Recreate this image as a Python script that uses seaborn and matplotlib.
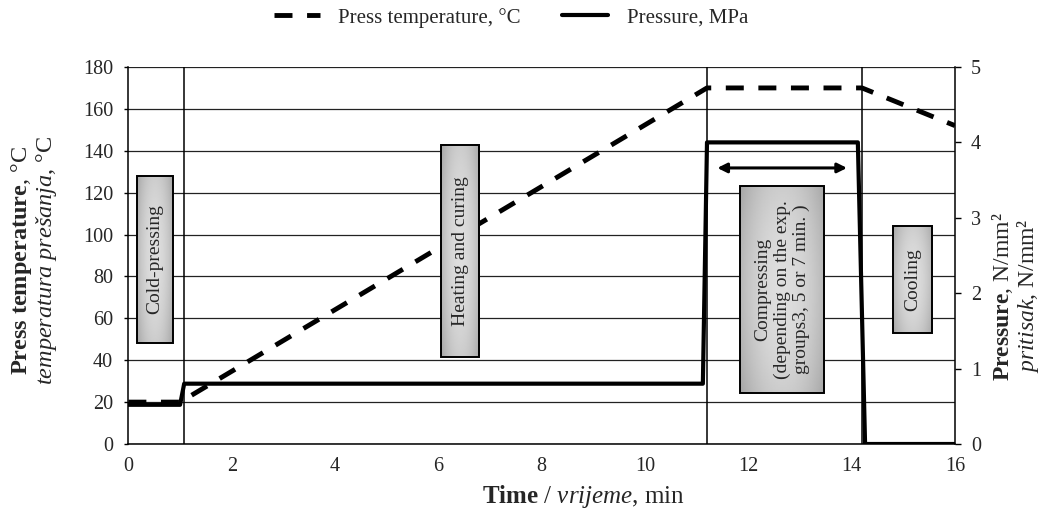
import numpy as np
import matplotlib
matplotlib.use("Agg")
import matplotlib.pyplot as plt
from matplotlib.lines import Line2D
from matplotlib.patches import Rectangle
import seaborn as sns

# ---- data -------------------------------------------------------------
temp_time = [0.0, 1.0, 11.2, 14.2, 16.0]          # min
temp_c = [20, 20, 170, 170, 152]                   # press temperature, °C
pres_time = [0.0, 1.0, 1.08, 11.12, 11.2, 14.12, 14.26, 16.0]
pres_mpa = [0.52, 0.52, 0.8, 0.8, 4.0, 4.0, 0.0, 0.0]  # pressure, MPa
phase_bounds = [1.07, 11.2, 14.2]                  # phase change times, min
time_ticks = list(range(0, 17, 2))
temp_ticks = list(range(0, 181, 20))
pres_ticks = [0, 1, 2, 3, 4, 5]
phase_labels = [
    "Cold-pressing",
    "Heating and curing",
    "Compressing\n(depending on the exp.\ngroups3, 5 or 7 min. )",
    "Cooling",
]
legend_labels = ["Press temperature, °C", "Pressure, MPa"]

# ---- style ------------------------------------------------------------
sns.set_theme(style="ticks")
plt.rcParams["font.family"] = ["Liberation Serif", "DejaVu Serif"]
plt.rcParams["mathtext.fontset"] = "custom"
plt.rcParams["mathtext.rm"] = "Liberation Serif"
plt.rcParams["mathtext.it"] = "Liberation Serif:italic"
plt.rcParams["mathtext.bf"] = "Liberation Serif:bold"

TICK_FS = 14.5
fig = plt.figure(figsize=(10.43, 5.09), dpi=100)
ax = fig.add_axes([0.1231, 0.1277, 0.7925, 0.7407])
ax2 = ax.twinx()

# temperature (dashed) on the left axis
sns.lineplot(x=temp_time, y=temp_c, ax=ax, color="black", lw=3.5,
             estimator=None, sort=False, zorder=3)
ax.lines[-1].set_dashes((3.7, 3.0))
ax.lines[-1].set_dash_capstyle("butt")

# pressure (solid) on the right axis
sns.lineplot(x=pres_time, y=pres_mpa, ax=ax2, color="black", lw=3.0,
             estimator=None, sort=False, zorder=3)

# phase separators
for xb in phase_bounds:
    ax.axvline(xb, color="black", lw=1.1, zorder=2.5)

# horizontal grid
ax.yaxis.grid(True, color="#222222", lw=0.9)
ax.set_axisbelow(True)

# phase boxes (x0, x1, y0, y1 in minutes / °C)
box_extents = [
    (0.17, 0.86, 48.2, 128.0),
    (6.05, 6.79, 41.5, 142.8),
    (11.84, 13.47, 24.4, 123.2),
    (14.80, 15.56, 53.0, 104.1),
]
u = np.linspace(-1, 1, 60)
v = np.linspace(-1, 1, 120)
U, V = np.meshgrid(u, v)
shade = 0.87 - 0.20 * (0.75 * U ** 2 + 0.35 * V ** 2)
for (x0, x1, y0, y1), lab in zip(box_extents, phase_labels):
    ax.imshow(shade, extent=(x0, x1, y0, y1), aspect="auto", cmap="gray",
              vmin=0, vmax=1, interpolation="bilinear", zorder=4)
    ax.add_patch(Rectangle((x0, y0), x1 - x0, y1 - y0, fill=False,
                           ec="black", lw=1.4, zorder=5))
    ax.text((x0 + x1) / 2, (y0 + y1) / 2, lab, rotation=90, ha="center",
            va="center", ma="center", fontsize=14, linespacing=1.15, zorder=6)

# duration arrow for compressing
ax.annotate("", xy=(13.91, 131.8), xytext=(11.40, 131.8),
            arrowprops=dict(arrowstyle="<|-|>", color="black", lw=2.2,
                            mutation_scale=14, shrinkA=0, shrinkB=0),
            zorder=6)

# axes limits / ticks
ax.set_xlim(0, 16)
ax.set_ylim(0, 180)
ax2.set_ylim(0, 5)
ax.set_xticks(time_ticks)
ax.set_yticks(temp_ticks)
ax2.set_yticks(pres_ticks)
ax.tick_params(axis="x", length=0, pad=9, labelsize=TICK_FS)
ax.tick_params(axis="y", length=3, width=1, pad=8, labelsize=TICK_FS,
               color="black")
ax2.tick_params(axis="y", length=4, width=1, pad=7.5, labelsize=TICK_FS,
                color="black")

for sp in ["left", "bottom"]:
    ax.spines[sp].set_color("black")
    ax.spines[sp].set_linewidth(1.1)
ax.spines["top"].set_visible(False)
ax.spines["right"].set_visible(False)
ax2.spines["right"].set_color("black")
ax2.spines["right"].set_linewidth(1.1)
for sp in ["left", "bottom", "top"]:
    ax2.spines[sp].set_visible(False)
ax.set_xlabel("")
ax.set_ylabel("")
ax2.set_ylabel("")

# axis titles
fig.text(0.0330, 0.489,
         "$\\mathbf{Press\\ temperature}$, °C\n$\\mathit{temperatura\\ prešanja}$, °C",
         rotation=90, ha="center", va="center", ma="center", fontsize=17.5,
         linespacing=1.0)
fig.text(0.9735, 0.418,
         "$\\mathbf{Pressure}$, N/mm²\n$\\mathit{pritisak}$, N/mm²",
         rotation=90, ha="center", va="center", ma="center", fontsize=17,
         linespacing=1.0)
fig.text(0.559, 0.0236, "$\\mathbf{Time}$ / $\\mathit{vrijeme}$, min",
         ha="center", va="center", fontsize=18)

# legend
handles = [
    Line2D([], [], color="black", lw=3.5, dashes=(3.7, 3.0)),
    Line2D([], [], color="black", lw=3.0),
]
fig.legend(handles, legend_labels, loc="center", bbox_to_anchor=(0.49, 0.965),
           ncol=2, frameon=False, fontsize=15, handlelength=2.2,
           handletextpad=0.9, columnspacing=2.0)

fig.savefig("out.png", dpi=100)
